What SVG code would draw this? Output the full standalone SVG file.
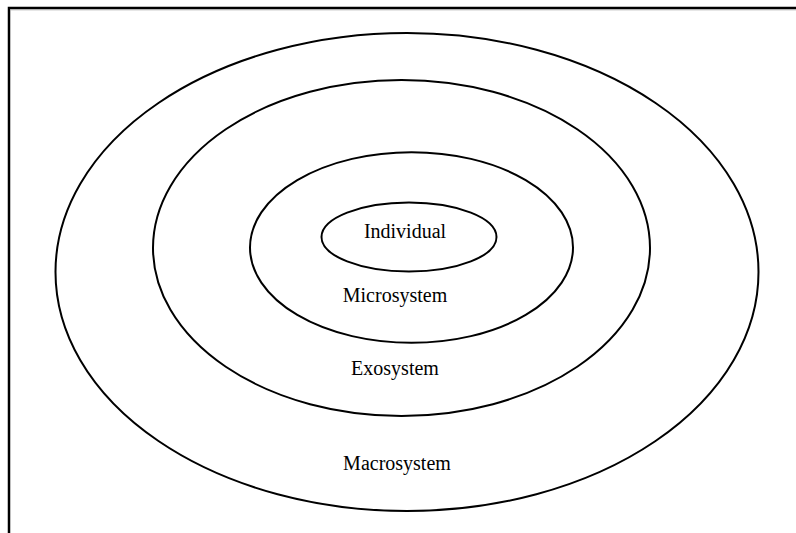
<svg xmlns="http://www.w3.org/2000/svg" width="796" height="533" viewBox="0 0 796 533">
<style>
.ring{fill:none;stroke:#000;stroke-width:2}
.lbl{font-family:"Liberation Serif","Times New Roman",serif;font-size:20px;fill:#000;text-anchor:middle}
.frame{stroke:#000;stroke-width:2.5;fill:none}
</style>
<rect width="796" height="533" fill="#fff"/>
<g id="frame">
<path class="frame" d="M9,533 V8 H796"/>
<line x1="10" y1="9.8" x2="796" y2="9.8" stroke="#aaa" stroke-width="1"/>
</g>
<g id="macrosystem">
<ellipse class="ring" cx="407" cy="272" rx="351.5" ry="239"/>
<text class="lbl" x="397" y="470">Macrosystem</text>
</g>
<g id="exosystem">
<ellipse class="ring" cx="401.5" cy="248" rx="248.5" ry="168"/>
<text class="lbl" x="395" y="375">Exosystem</text>
</g>
<g id="microsystem">
<ellipse class="ring" cx="411.5" cy="247.5" rx="161.5" ry="95.3"/>
<text class="lbl" x="395" y="302">Microsystem</text>
</g>
<g id="individual">
<ellipse class="ring" cx="409" cy="237" rx="87.5" ry="34.5"/>
<text class="lbl" x="405" y="238">Individual</text>
</g>
<g id="connectors"/>
</svg>
